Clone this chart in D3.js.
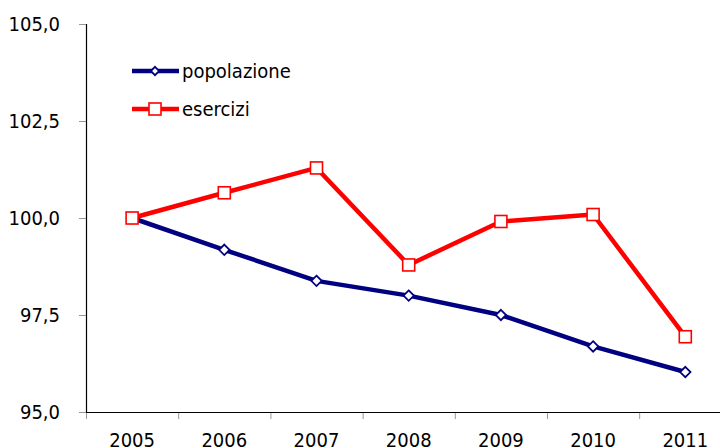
<!DOCTYPE html>
<html>
<head>
<meta charset="utf-8">
<script src="https://cdn.jsdelivr.net/npm/d3@7"></script>
<style>
  html, body { margin: 0; padding: 0; background: #fff; }
  svg { display: block; font-family: "DejaVu Sans Condensed", "DejaVu Sans", sans-serif; }
</style>
</head>
<body>
<svg id="chart" width="720" height="448"></svg>
<script>
const years = ["2005", "2006", "2007", "2008", "2009", "2010", "2011"];
const popolazione = [100.0, 99.18, 98.38, 98.0, 97.5, 96.69, 96.03];
const esercizi = [100.0, 100.65, 101.29, 98.79, 99.91, 100.09, 96.94];
const yTicks = [95, 97.5, 100, 102.5, 105];
const seriesNames = ["popolazione", "esercizi"];

(function () {
const svg = d3.select("#chart");
const W = 720, H = 448;
const plotLeft = 86, plotTop = 24, plotBottom = 412;
const step = 92.2;

const x = d3.scaleBand().domain(years).range([plotLeft, plotLeft + step * years.length]).padding(0);
const y = d3.scaleLinear().domain([95, 105]).range([plotBottom, plotTop]);

const itLocale = d3.formatLocale({decimal: ",", thousands: ".", grouping: [3], currency: ["", "€"]});
const fmt = itLocale.format(".1f");

// Y axis
const yAxis = d3.axisLeft(y).tickValues(yTicks).tickSize(7).tickPadding(19).tickFormat(fmt);
const gy = svg.append("g").attr("transform", `translate(${plotLeft},0)`).call(yAxis);
gy.select(".domain").remove();
gy.selectAll(".tick line").attr("stroke", "#999").attr("stroke-width", 1);
gy.selectAll(".tick text").attr("font-size", 20).attr("fill", "#000")
  .attr("font-family", "'DejaVu Sans Condensed', 'DejaVu Sans', sans-serif");
svg.append("line").attr("x1", plotLeft + 0.5).attr("x2", plotLeft + 0.5).attr("y1", plotTop).attr("y2", plotBottom)
  .attr("stroke", "#000").attr("stroke-width", 1.2);

// X axis
const boundaries = years.map(d => x(d)).concat([x(years[years.length - 1]) + x.bandwidth()]);
svg.append("g").selectAll("line").data(boundaries).join("line")
  .attr("x1", d => d + 0.5).attr("x2", d => d + 0.5)
  .attr("y1", plotBottom).attr("y2", plotBottom + 7)
  .attr("stroke", "#999").attr("stroke-width", 1);
svg.append("line").attr("x1", plotLeft).attr("x2", W).attr("y1", plotBottom + 0.5).attr("y2", plotBottom + 0.5)
  .attr("stroke", "#000").attr("stroke-width", 1.2);
svg.append("g").selectAll("text").data(years).join("text")
  .attr("x", d => x(d) + x.bandwidth() / 2).attr("y", 446.5)
  .attr("text-anchor", "middle").attr("font-size", 20).attr("fill", "#000")
  .text(d => d);

const cx = (d, i) => x(years[i]) + x.bandwidth() / 2;
const line = d3.line().x((d, i) => cx(d, i)).y(d => y(d));

svg.append("path").datum(popolazione).attr("d", line)
  .attr("fill", "none").attr("stroke", "#000080").attr("stroke-width", 4.5).attr("stroke-linejoin", "round");
svg.append("path").datum(esercizi).attr("d", line)
  .attr("fill", "none").attr("stroke", "#ff0000").attr("stroke-width", 4.5).attr("stroke-linejoin", "round");

const diamond = (px, py, r) => `M${px},${py - r}L${px + r},${py}L${px},${py + r}L${px - r},${py}Z`;

svg.append("g").selectAll("path").data(popolazione).join("path")
  .attr("d", (d, i) => diamond(cx(d, i), y(d), 5.2))
  .attr("fill", "#fff").attr("stroke", "#000080").attr("stroke-width", 1.8);

svg.append("g").selectAll("rect").data(esercizi).join("rect")
  .attr("x", (d, i) => cx(d, i) - 6).attr("y", d => y(d) - 6)
  .attr("width", 12).attr("height", 12)
  .attr("fill", "#fff").attr("stroke", "#ff0000").attr("stroke-width", 1.6);

// Legend
const legendY = [71, 109];
const legendColors = ["#000080", "#ff0000"];
const lg = svg.append("g");
seriesNames.forEach((name, i) => {
  const ly = legendY[i];
  lg.append("line").attr("x1", 132).attr("x2", 179).attr("y1", ly).attr("y2", ly)
    .attr("stroke", legendColors[i]).attr("stroke-width", 4.5);
  if (i === 0) {
    lg.append("path").attr("d", diamond(155, ly, 4.2))
      .attr("fill", "#fff").attr("stroke", "#000080").attr("stroke-width", 1.8);
  } else {
    lg.append("rect").attr("x", 149).attr("y", ly - 6).attr("width", 12).attr("height", 12)
      .attr("fill", "#fff").attr("stroke", "#ff0000").attr("stroke-width", 1.6);
  }
  lg.append("text").attr("x", 182).attr("y", ly).attr("dy", "0.35em")
    .attr("font-size", 20).attr("fill", "#000").text(name);
});
})();
</script>
</body>
</html>
